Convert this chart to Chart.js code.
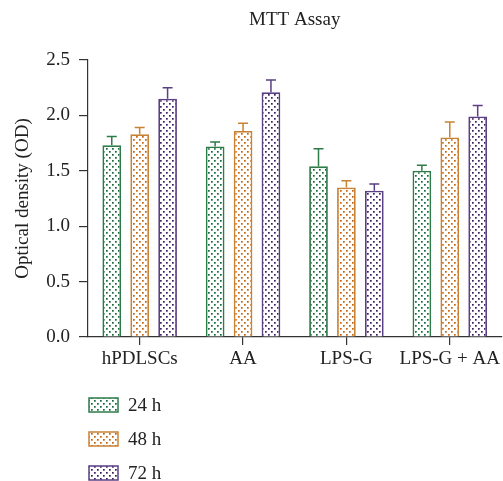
<!DOCTYPE html>
<html>
<head>
<meta charset="utf-8">
<script src="https://cdn.jsdelivr.net/npm/chart.js@4/dist/chart.umd.min.js"></script>
<style>
  html, body { margin: 0; padding: 0; background: #fff; }
  #wrap { width: 503px; height: 481px; position: relative; }
</style>
</head>
<body>
<div id="wrap"><canvas id="mtt"></canvas></div>
<script>
// Groups on the x axis
const groups = ['hPDLSCs', 'AA', 'LPS-G', 'LPS-G + AA'];
const seriesNames = ['24 h', '48 h', '72 h'];

// Mean OD values per time point
const od24 = [1.73, 1.72, 1.54, 1.50];
const od48 = [1.83, 1.86, 1.35, 1.80];
const od72 = [2.15, 2.21, 1.32, 1.99];

// Error bar sizes (upper whisker)
const err24 = [0.08, 0.04, 0.16, 0.05];
const err48 = [0.06, 0.07, 0.06, 0.14];
const err72 = [0.10, 0.11, 0.06, 0.10];

const yTicks = [0, 0.5, 1.0, 1.5, 2.0, 2.5];

const lineColors = ['#2e7b48', '#c98234', '#5b3f83'];
const dotColors = ['#14693a', '#c2640e', '#3b1c5e'];

const FONT = '"Liberation Serif", "DejaVu Serif", serif';

// Dotted fill pattern like the original
function dotPattern(color) {
  const c = document.createElement('canvas');
  c.width = 6; c.height = 6;
  const g = c.getContext('2d');
  g.fillStyle = '#fff';
  g.fillRect(0, 0, 6, 6);
  g.fillStyle = color;
  g.fillRect(1, 1, 1.7, 1.7);
  g.fillRect(4, 4, 1.7, 1.7);
  return g.createPattern(c, 'repeat');
}

const errors = [err24, err48, err72];

// Draws the upper error whiskers
const errorBars = {
  id: 'errorBars',
  afterDatasetsDraw(chart) {
    const ctx = chart.ctx;
    const y = chart.scales.y;
    chart.data.datasets.forEach((ds, i) => {
      const meta = chart.getDatasetMeta(i);
      ctx.save();
      ctx.strokeStyle = lineColors[i];
      ctx.lineWidth = 1.5;
      meta.data.forEach((bar, j) => {
        const top = y.getPixelForValue(ds.data[j] + errors[i][j]);
        ctx.beginPath();
        ctx.moveTo(bar.x, bar.y);
        ctx.lineTo(bar.x, top);
        ctx.moveTo(bar.x - 5, top);
        ctx.lineTo(bar.x + 5, top);
        ctx.stroke();
      });
      ctx.restore();
    });
  }
};

// Title and vertical legend, drawn by hand
const decorations = {
  id: 'decorations',
  afterDraw(chart) {
    const ctx = chart.ctx;
    const area = chart.chartArea;
    ctx.save();
    ctx.fillStyle = '#222';
    ctx.font = '19px ' + FONT;
    ctx.textAlign = 'center';
    ctx.textBaseline = 'middle';
    ctx.fillText('MTT Assay', (area.left + area.right) / 2, 20);

    ctx.textAlign = 'left';
    ctx.font = '19px ' + FONT;
    chart.data.datasets.forEach((ds, i) => {
      const cy = 405 + i * 34;
      ctx.fillStyle = ds.backgroundColor;
      ctx.fillRect(89, cy - 7, 29, 14);
      ctx.strokeStyle = lineColors[i];
      ctx.lineWidth = 1.5;
      ctx.strokeRect(89, cy - 7, 29, 14);
      ctx.fillStyle = '#222';
      ctx.fillText(ds.label, 128, cy + 1);
    });
    ctx.restore();
  }
};

const values = [od24, od48, od72];

new Chart(document.getElementById('mtt'), {
  type: 'bar',
  data: {
    labels: groups,
    datasets: seriesNames.map((name, i) => ({
      label: name,
      data: values[i],
      backgroundColor: dotPattern(dotColors[i]),
      borderColor: lineColors[i],
      borderWidth: 1.8,
      borderSkipped: 'bottom',
      categoryPercentage: 0.81,
      barPercentage: 0.67
    }))
  },
  options: {
    responsive: true,
    maintainAspectRatio: false,
    animation: false,
    layout: { padding: { top: 60, right: 0, bottom: 104, left: 0 } },
    plugins: {
      legend: { display: false },
      title: { display: false },
      tooltip: { enabled: false }
    },
    scales: {
      x: {
        afterFit(scale) { scale.height = 40; },
        grid: { display: true, drawOnChartArea: false, offset: false, tickLength: 8, color: '#333', lineWidth: 1.2 },
        border: { color: '#333', width: 1.2 },
        ticks: {
          color: '#222',
          font: { family: FONT, size: 19 },
          padding: 3,
          maxRotation: 0,
          minRotation: 0,
          autoSkip: false
        }
      },
      y: {
        min: 0,
        max: 2.5,
        afterFit(scale) { scale.width = 88; },
        afterBuildTicks(scale) { scale.ticks = yTicks.map(v => ({ value: v })); },
        grid: { display: true, drawOnChartArea: false, tickLength: 9, color: '#333', lineWidth: 1.2 },
        border: { color: '#333', width: 1.2 },
        ticks: {
          color: '#222',
          font: { family: FONT, size: 19 },
          padding: 9,
          callback: v => v.toFixed(1)
        },
        title: {
          display: true,
          text: 'Optical density (OD)',
          color: '#222',
          font: { family: FONT, size: 19 },
          padding: { top: 12, bottom: 4 }
        }
      }
    }
  },
  plugins: [errorBars, decorations]
});
</script>
</body>
</html>
